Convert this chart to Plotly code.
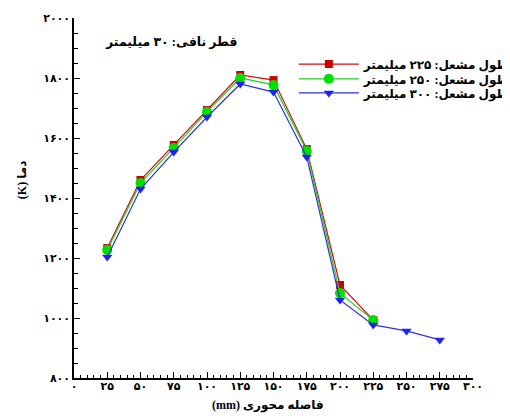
import plotly.graph_objects as go

x_pos = [25, 50, 75, 100, 125, 150, 175, 200, 225, 250, 275]
t_225 = [1233, 1460, 1577, 1693, 1810, 1793, 1563, 1110, 993]
t_250 = [1227, 1450, 1567, 1687, 1800, 1777, 1557, 1083, 993]
t_300 = [1203, 1430, 1553, 1670, 1780, 1753, 1537, 1060, 977, 957, 927]

names = ["طول مشعل: ۲۲۵ میلیمتر", "طول مشعل: ۲۵۰ میلیمتر", "طول مشعل: ۳۰۰ میلیمتر"]

x_tickvals = [0, 25, 50, 75, 100, 125, 150, 175, 200, 225, 250, 275, 300]
x_ticktext = ["۰", "۲۵", "۵۰", "۷۵", "۱۰۰", "۱۲۵", "۱۵۰", "۱۷۵", "۲۰۰", "۲۲۵", "۲۵۰", "۲۷۵", "۳۰۰"]
y_tickvals = [800, 1000, 1200, 1400, 1600, 1800, 2000]
y_ticktext = ["۸۰۰", "۱۰۰۰", "۱۲۰۰", "۱۴۰۰", "۱۶۰۰", "۱۸۰۰", "۲۰۰۰"]

FONT = "Liberation Serif, DejaVu Sans"

fig = go.Figure()
fig.add_trace(go.Scatter(x=x_pos[:len(t_225)], y=t_225, name=names[0], mode="lines+markers",
                         legend="legend",
                         line=dict(color="#cc1010", width=1.2),
                         marker=dict(symbol="square", size=8, color="#cc0000")))
fig.add_trace(go.Scatter(x=x_pos[:len(t_250)], y=t_250, name=names[1], mode="lines+markers",
                         legend="legend2",
                         line=dict(color="#20d020", width=1.2),
                         marker=dict(symbol="circle", size=10, color="#00e000")))
fig.add_trace(go.Scatter(x=x_pos[:len(t_300)], y=t_300, name=names[2], mode="lines+markers",
                         legend="legend3",
                         line=dict(color="#3030e0", width=1.2),
                         marker=dict(symbol="triangle-down", size=9, color="#2020f0")))

leg_common = dict(x=0.551, xanchor="left", yanchor="middle",
                  bgcolor="rgba(0,0,0,0)", itemwidth=60,
                  font=dict(family=FONT, size=12, color="black", weight="bold"))

fig.update_layout(
    width=502, height=412,
    margin=dict(l=66, r=37, t=10, b=42, autoexpand=False),
    paper_bgcolor="white", plot_bgcolor="white",
    font=dict(family=FONT, size=11, color="black"),
    showlegend=True,
    legend=dict(y=0.872, **leg_common),
    legend2=dict(y=0.831, **leg_common),
    legend3=dict(y=0.792, **leg_common),
    xaxis=dict(range=[0, 300], showgrid=False, zeroline=False,
               showline=True, linecolor="black", linewidth=1.5,
               tickmode="array", tickvals=x_tickvals, ticktext=x_ticktext,
               ticks="inside", ticklen=6, tickcolor="black",
               ticklabelstandoff=-3,
               tickfont=dict(family=FONT, size=11, weight="bold"),
               minor=dict(dtick=5, ticks="inside", ticklen=3, tickcolor="black")),
    yaxis=dict(range=[800, 2000], showgrid=False, zeroline=False,
               showline=True, linecolor="black", linewidth=1.5,
               tickmode="array", tickvals=y_tickvals, ticktext=y_ticktext,
               ticks="inside", ticklen=6, tickcolor="black",
               tickfont=dict(family=FONT, size=11, weight="bold"),
               minor=dict(dtick=50, ticks="inside", ticklen=4, tickcolor="black")),
    annotations=[
        dict(text="قطر نافی: ۳۰ میلیمتر", x=0.243, y=0.933, xref="paper", yref="paper",
             xanchor="center", yanchor="middle",
             showarrow=False, font=dict(family=FONT, size=12.5, weight="bold")),
        dict(text="(K) دما", x=-0.13, y=0.55, xref="paper", yref="paper", textangle=-90,
             xanchor="center", yanchor="middle",
             showarrow=False, font=dict(family=FONT, size=12, weight="bold")),
        dict(text="(mm) فاصله محوری", x=0.486, y=-0.075, xref="paper", yref="paper",
             xanchor="center", yanchor="middle",
             showarrow=False, font=dict(family=FONT, size=12, weight="bold")),
    ],
)

fig.write_html("out.html")
